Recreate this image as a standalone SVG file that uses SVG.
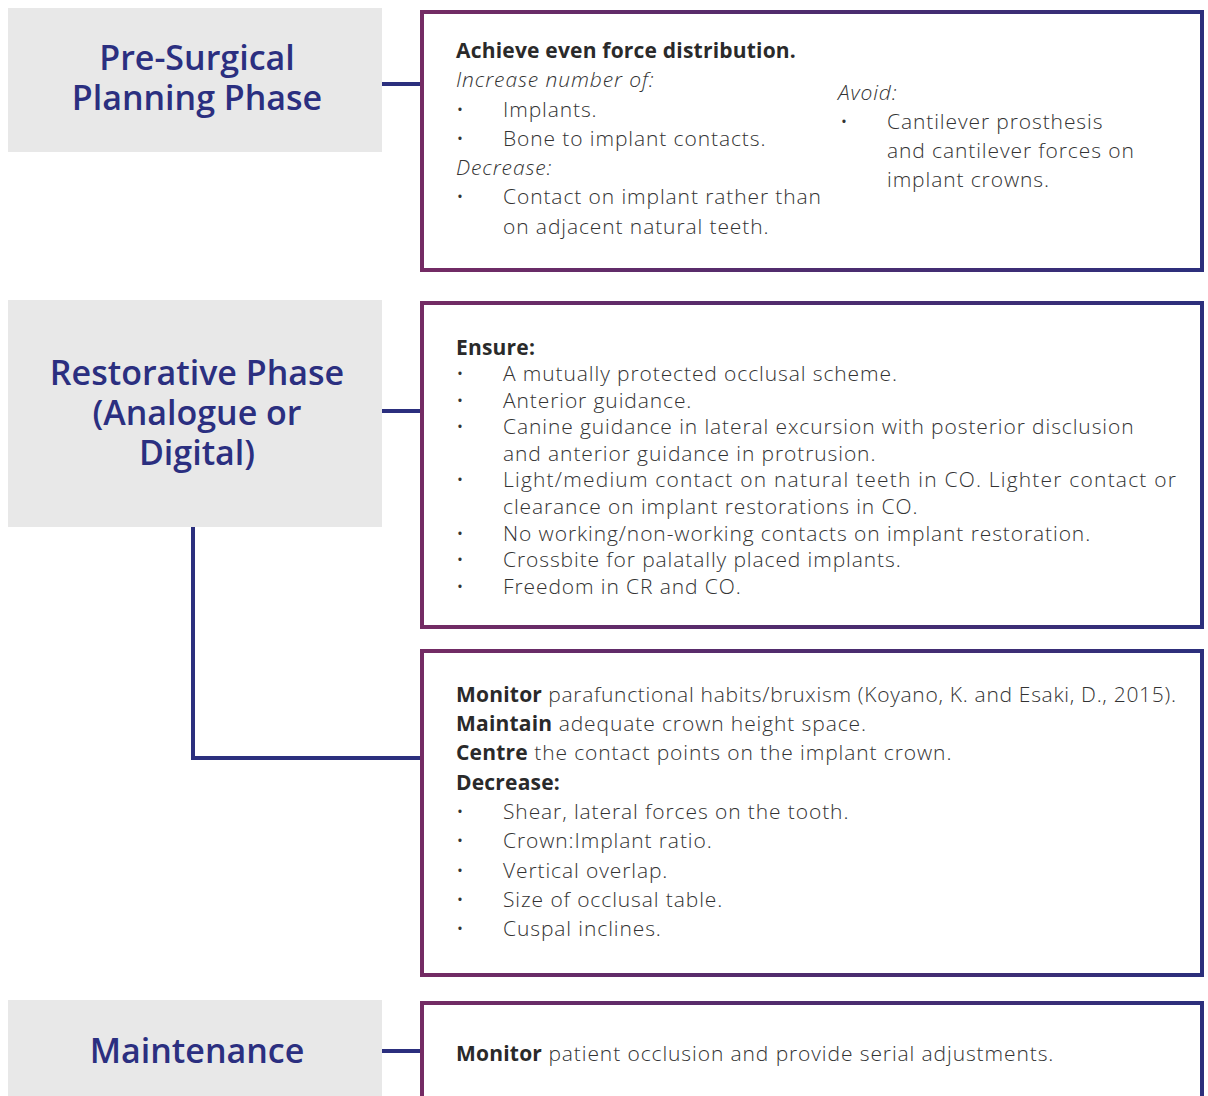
<svg xmlns="http://www.w3.org/2000/svg" width="1208" height="1096" viewBox="0 0 1208 1096">
<defs>
<linearGradient id="bg" x1="0" y1="0" x2="1" y2="0">
<stop offset="0" stop-color="#742b64"/>
<stop offset="0.5" stop-color="#4e2c6e"/>
<stop offset="1" stop-color="#2c2f7c"/>
</linearGradient>
<style>
.phase{fill:#e8e8e8}
.box{fill:#fff;stroke:url(#bg);stroke-width:4}
.h{font-family:"Open Sans","Noto Sans",sans-serif;font-weight:600;font-size:34px;fill:#2b2f80;text-anchor:middle}
.t{font-family:"Open Sans","Noto Sans",sans-serif;font-weight:300;font-size:21px;letter-spacing:0.9px;fill:#333}
.b{font-weight:700;fill:#2a2a2a;letter-spacing:0.2px}
.i{font-style:italic}
.con{stroke:#2b2f7e;stroke-width:4;fill:none}
</style>
</defs>
<g id="connectors">
<line class="con" x1="382" y1="84" x2="421" y2="84"/>
<line class="con" x1="382" y1="411" x2="421" y2="411"/>
<polyline class="con" points="193,527 193,758 421,758"/>
<line class="con" x1="382" y1="1051" x2="421" y2="1051"/>
</g>
<g id="phase-pre">
<rect class="phase" x="8" y="8" width="374" height="144"/>
<text class="h" x="197" y="70">Pre-Surgical<tspan x="197" dy="40">Planning Phase</tspan></text>
</g>
<g id="phase-restorative">
<rect class="phase" x="8" y="300" width="374" height="227"/>
<text class="h" x="197" y="385">Restorative Phase<tspan x="197" dy="40">(Analogue or</tspan><tspan x="197" dy="40">Digital)</tspan></text>
</g>
<g id="phase-maintenance">
<rect class="phase" x="8" y="1000" width="374" height="110"/>
<text class="h" x="197" y="1063">Maintenance</text>
</g>
<g id="box-pre">
<rect class="box" x="422" y="12" width="780" height="258"/>
<text class="t b" x="456" y="58">Achieve even force distribution.</text>
<text class="t i" x="456" y="87">Increase number of:</text>
<text class="t" x="456" y="117">•</text><text class="t" x="503" y="117">Implants.</text>
<text class="t" x="456" y="146">•</text><text class="t" x="503" y="146">Bone to implant contacts.</text>
<text class="t i" x="456" y="175">Decrease:</text>
<text class="t" x="456" y="204">•</text><text class="t" x="503" y="204">Contact on implant rather than</text>
<text class="t" x="503" y="234">on adjacent natural teeth.</text>
<text class="t i" x="838" y="100">Avoid:</text>
<text class="t" x="840" y="129">•</text><text class="t" x="887" y="129">Cantilever prosthesis</text>
<text class="t" x="887" y="158">and cantilever forces on</text>
<text class="t" x="887" y="187">implant crowns.</text>
</g>
<g id="box-ensure">
<rect class="box" x="422" y="303" width="780" height="324"/>
<text class="t b" x="456" y="355">Ensure:</text>
<text class="t" x="456" y="381">•</text><text class="t" x="503" y="381">A mutually protected occlusal scheme.</text>
<text class="t" x="456" y="408">•</text><text class="t" x="503" y="408">Anterior guidance.</text>
<text class="t" x="456" y="434">•</text><text class="t" x="503" y="434">Canine guidance in lateral excursion with posterior disclusion</text>
<text class="t" x="503" y="461">and anterior guidance in protrusion.</text>
<text class="t" x="456" y="487">•</text><text class="t" x="503" y="487" style="letter-spacing:1.2px">Light/medium contact on natural teeth in CO. Lighter contact or</text>
<text class="t" x="503" y="514">clearance on implant restorations in CO.</text>
<text class="t" x="456" y="541">•</text><text class="t" x="503" y="541">No working/non-working contacts on implant restoration.</text>
<text class="t" x="456" y="567">•</text><text class="t" x="503" y="567">Crossbite for palatally placed implants.</text>
<text class="t" x="456" y="594">•</text><text class="t" x="503" y="594">Freedom in CR and CO.</text>
</g>
<g id="box-monitor">
<rect class="box" x="422" y="651" width="780" height="324"/>
<text class="t" x="456" y="702" style="letter-spacing:0.7px"><tspan class="b">Monitor</tspan> parafunctional habits/bruxism (Koyano, K. and Esaki, D., 2015).</text>
<text class="t" x="456" y="731"><tspan class="b">Maintain</tspan> adequate crown height space.</text>
<text class="t" x="456" y="760"><tspan class="b">Centre</tspan> the contact points on the implant crown.</text>
<text class="t b" x="456" y="790">Decrease:</text>
<text class="t" x="456" y="819">•</text><text class="t" x="503" y="819">Shear, lateral forces on the tooth.</text>
<text class="t" x="456" y="848">•</text><text class="t" x="503" y="848">Crown:Implant ratio.</text>
<text class="t" x="456" y="878">•</text><text class="t" x="503" y="878">Vertical overlap.</text>
<text class="t" x="456" y="907">•</text><text class="t" x="503" y="907">Size of occlusal table.</text>
<text class="t" x="456" y="936">•</text><text class="t" x="503" y="936">Cuspal inclines.</text>
</g>
<g id="box-maintenance">
<rect class="box" x="422" y="1003" width="780" height="120"/>
<text class="t" x="456" y="1061"><tspan class="b">Monitor</tspan> patient occlusion and provide serial adjustments.</text>
</g>
</svg>
